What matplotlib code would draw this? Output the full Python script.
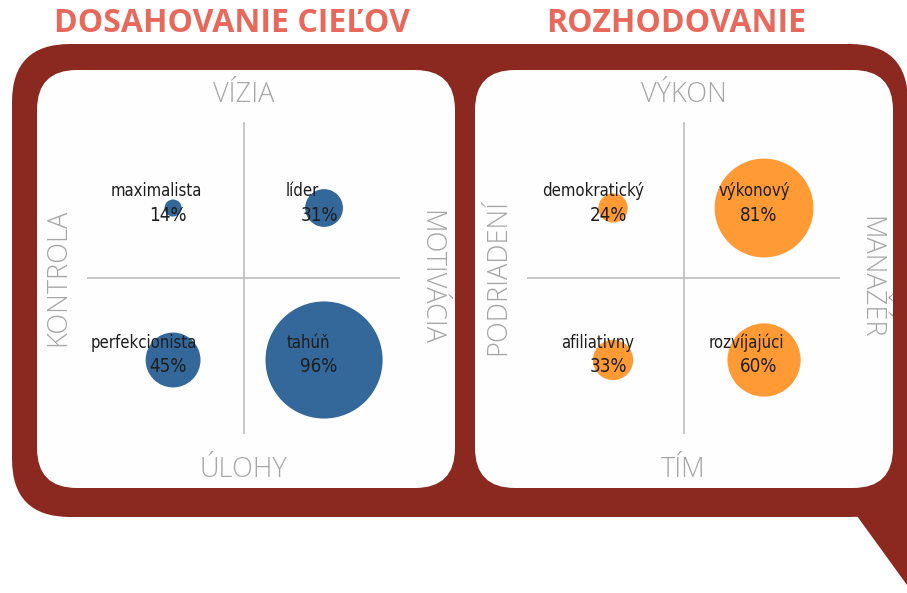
import matplotlib
matplotlib.use("Agg")
import matplotlib.pyplot as plt
from matplotlib.patches import FancyBboxPatch, Polygon
from matplotlib import font_manager as fm
from matplotlib.font_manager import FontProperties

# ---------------- data ----------------
titles = ["DOSAHOVANIE CIEĽOV", "ROZHODOVANIE"]

left_names = ["maximalista", "líder", "perfekcionista", "tahúň"]
left_values = [14, 31, 45, 96]
left_x = [1, 2, 1, 2]
left_y = [2, 2, 1, 1]
left_axis_labels = ["VÍZIA", "ÚLOHY", "KONTROLA", "MOTIVÁCIA"]  # top, bottom, left, right

right_names = ["demokratický", "výkonový", "afiliativny", "rozvíjajúci"]
right_values = [24, 81, 33, 60]
right_x = [1, 2, 1, 2]
right_y = [2, 2, 1, 1]
right_axis_labels = ["VÝKON", "TÍM", "PODRIADENÍ", "MANAŽÉR"]

# ---------------- styles ----------------
W, H = 907, 593
DPI = 100
RED = "#8B281F"
TITLE_C = "#E8695B"
BLUE = "#34679A"
ORANGE = "#FF9A35"
GRAY_TXT = "#A6A6A6"
GRAY_LINE = "#BFBFBF"

names = {f.name for f in fm.fontManager.ttflist}


def find_condensed():
    files = [f.fname for f in fm.fontManager.ttflist]
    prefs = ["LiberationSansNarrow-Regular", "DejaVuSansCondensed.ttf",
             "RobotoCondensed-Regular", "OpenSans_Condensed-Regular",
             "OpenSansCondensed", "NotoSans-Condensed.ttf", "Condensed"]
    for p in prefs:
        for fn in files:
            base = fn.split("/")[-1]
            if p in base and not any(k in base for k in ("Bold", "Oblique", "Italic", "Light", "Thin", "Black", "Medium", "Semi", "Extra")):
                return FontProperties(fname=fn)
    return FontProperties(family="DejaVu Sans")


narrow_fp = find_condensed()
light = "Open Sans" if "Open Sans" in names else "DejaVu Sans"
bold = "Open Sans" if "Open Sans" in names else "DejaVu Sans"

fig = plt.figure(figsize=(W / DPI, H / DPI), dpi=DPI)
fig.patch.set_facecolor("white")

bg = fig.add_axes([0, 0, 1, 1])
bg.set_xlim(0, W)
bg.set_ylim(H, 0)
bg.axis("off")

# frame
bg.add_patch(FancyBboxPatch((12, 44), 896, 473,
                            boxstyle="round,pad=0,rounding_size=58",
                            fc=RED, ec="none", zorder=1))
bg.add_patch(Polygon([(800, 400), (912, 400), (912, 585), (907, 585), (857, 516), (800, 516)],
                     closed=True, fc=RED, ec="none", zorder=1))
for x0 in (37, 475):
    bg.add_patch(FancyBboxPatch((x0, 70), 418, 418,
                                boxstyle="round,pad=0,rounding_size=40",
                                fc="#FEFEFE", ec="none", zorder=2))

# titles
for t, xc in zip(titles, (232, 676)):
    bg.text(xc, 24, t, ha="center", va="center", fontsize=23,
            fontweight="bold", color=TITLE_C, family=bold, zorder=3)

panels = [
    (left_names, left_values, left_x, left_y, left_axis_labels, BLUE, 87,
     [-17, -22, -29, -16]),
    (right_names, right_values, right_x, right_y, right_axis_labels, ORANGE, 527,
     [-20, -10, -15, -18]),
]

XL = (0.430, 2.503)
YL = (0.513, 2.566)
PT = 72 / DPI

for nms, vals, xs, ys, alabels, col, px0, name_dx in panels:
    ax = fig.add_axes([px0 / W, (H - 434) / H, 313 / W, 312 / H])
    ax.set_xlim(*XL)
    ax.set_ylim(*YL)
    ax.axis("off")
    ax.patch.set_alpha(0)
    xm = sum(XL) / 2
    ym = sum(YL) / 2
    ax.axvline(xm, color=GRAY_LINE, lw=1.2, zorder=1)
    ax.axhline(ym, color=GRAY_LINE, lw=1.2, zorder=1)
    sizes = [(1.22 * v * PT) ** 2 for v in vals]
    ax.scatter(xs, ys, s=sizes, c=col, edgecolors="none", zorder=2, clip_on=False)
    for n, v, x, y, dx in zip(nms, vals, xs, ys, name_dx):
        fp1 = narrow_fp.copy()
        fp1.set_size(12)
        ax.annotate(n, (x, y), xytext=(dx * PT, 17 * PT), textcoords="offset points",
                    ha="center", va="center", color="#1E1E1E",
                    fontproperties=fp1, zorder=3)
        fp2 = narrow_fp.copy()
        fp2.set_size(13.5)
        ax.annotate(f"{v}%", (x, y), xytext=(-5 * PT, -7 * PT), textcoords="offset points",
                    ha="center", va="center", color="#1E1E1E",
                    fontproperties=fp2, zorder=3)

    cx = px0 + 156.5
    top, bottom, left, right = alabels
    kw = dict(ha="center", va="center", fontsize=19.5, color=GRAY_TXT,
              family=light, fontweight="light", zorder=3)
    bg.text(cx, 95, top, **kw)
    bg.text(cx, 470, bottom, **kw)
    bg.text(px0 - 29, 277, left, rotation=90, **kw)
    bg.text(px0 + 343, 277, right, rotation=-90, **kw)

fig.savefig("out.png", dpi=DPI)
